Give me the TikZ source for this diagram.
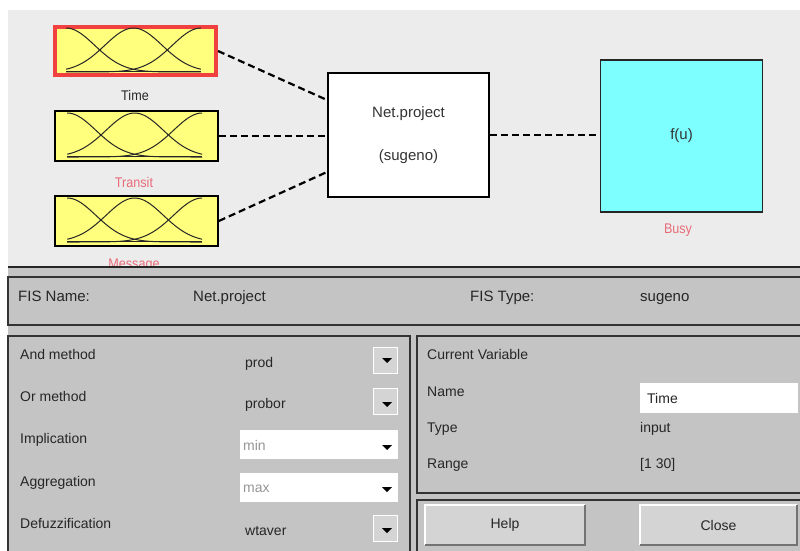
\documentclass[tikz,border=0pt]{standalone}
\usepackage{fontspec}
\setmainfont{Liberation Sans}
\newfontfamily\labelsans[FakeStretch=0.9]{Liberation Sans}
\usetikzlibrary{positioning, calc}

\definecolor{topbg}{RGB}{236,236,236}
\definecolor{panelbg}{RGB}{196,196,196}
\definecolor{mfyellow}{RGB}{255,255,125}
\definecolor{outcyan}{RGB}{125,255,255}
\definecolor{selred}{RGB}{240,64,64}
\definecolor{varpink}{RGB}{232,108,120}
\definecolor{btnface}{RGB}{212,212,212}
\definecolor{dimtext}{RGB}{150,150,150}

\begin{document}
\begin{tikzpicture}[x=1pt, y=-1pt,
    mfbox/.style={rectangle, draw=black, line width=1.6pt, fill=mfyellow, minimum width=163pt, minimum height=50pt, inner sep=0pt},
    mfcurve/.style={black!85, line width=1pt},
    varname/.style={font=\labelsans\fontsize{14}{16}\selectfont, text=#1},
    link/.style={black, line width=2.2pt, dash pattern=on 7pt off 4pt},
    panel/.style={draw=black!80, line width=1.4pt},
    lbl/.style={anchor=base west, font=\fontsize{14}{16}\selectfont, inner sep=0pt, text=black!85},
    fisrow/.style={lbl, font=\fontsize{15}{17}\selectfont},
    popup/.style={rectangle, fill=white, minimum width=158pt, minimum height=29pt, inner sep=0pt},
    popbtn/.style={rectangle, fill=btnface, draw=white, line width=0.8pt, minimum width=24pt, minimum height=26pt, inner sep=0pt},
    button/.style={rectangle, fill=btnface, minimum width=160pt, minimum height=40pt, font=\fontsize{14}{16}\selectfont, text=black!85}
]
\useasboundingbox (0,0) rectangle (800,551);

% ---- Diagram area ----
\fill[white] (0,0) rectangle (800,551);
\fill[topbg] (8,10) rectangle (800,266);

% ---- Input variables ----
\node[mfbox, draw=selred, line width=4pt, minimum width=161pt, minimum height=48pt] (time) at (135.5,51) {};
\node[mfbox] (transit) at (136.5,136) {};
\node[mfbox] (message) at (136.5,221) {};

% gaussian membership functions
\foreach \n in {time, transit, message} {
  \begin{scope}[shift={(\n.west)}]
    \foreach \c in {0, 0.5, 1}
      \draw[mfcurve] plot[domain=0:1, samples=50, smooth]
        ({13+135*\x}, {21-44*exp(-0.5*((\x-\c)/0.2123)*((\x-\c)/0.2123))});
    \draw[mfcurve, line width=1.6pt] (13,20.5) -- (148,20.5);
  \end{scope}
}

\node[varname=black!85] (timelbl) at (135,95) {Time};
\node[varname=varpink] (transitlbl) at (134,182) {Transit};
\node[varname=varpink] (messagelbl) at (134,265) {Message};

% ---- System and output ----
\node[rectangle, draw=black, line width=2pt, fill=white, minimum width=161pt, minimum height=124pt, align=center, font=\fontsize{15}{17}\selectfont, text=black!80] (fis) at (408.5,135) {Net.project\\[26pt](sugeno)};

\node[rectangle, draw=black!85, line width=1.2pt, fill=outcyan, minimum width=162pt, minimum height=152pt, font=\fontsize{15}{17}\selectfont, text=black!80] (busy) at (681.5,136) {f(u)};
\node[varname=varpink] (busylbl) at (678,230) {Busy};

% ---- Connections ----
\draw[link] (time.east) -- ([yshift=35pt]fis.west);
\draw[link] (transit.east) -- (transit.east -| fis.west);
\draw[link] (message.east) -- ([yshift=-37pt]fis.west);
\draw[link] (fis.east) -- (fis.east -| busy.west);

% ---- Control panel ----
\fill[panelbg] (8,267) rectangle (800,551);
\draw[black!85, line width=2pt] (8,267) -- (800,267);

% FIS name / type row
\draw[panel] (8,277) rectangle (801,325);
\node[fisrow] (fisname) at (18,301) {FIS Name:};
\node[fisrow] (fisnameval) at (193,301) {Net.project};
\node[fisrow] (fistype) at (470,301) {FIS Type:};
\node[fisrow] (fistypeval) at (640,301) {sugeno};

% methods
\draw[panel] (8,336) rectangle (410,552);
\node[lbl] (andlbl) at (20,359) {And method};
\node[lbl] (orlbl) at (20,401) {Or method};
\node[lbl] (implbl) at (20,443) {Implication};
\node[lbl] (agglbl) at (20,486) {Aggregation};
\node[lbl] (defuzzlbl) at (20,528) {Defuzzification};

\node[popup] (minbox) at (319,444) {};
\node[popup] (maxbox) at (319,487) {};
\node[popbtn] (andbtn) at (385,360) {};
\node[popbtn] (orbtn) at (385,401) {};
\node[popbtn] (defuzzbtn) at (385,528) {};

\node[lbl] (andval) at (245,367) {prod};
\node[lbl] (orval) at (245,408) {probor};
\node[lbl, text=dimtext] (impval) at (243,450) {min};
\node[lbl, text=dimtext] (aggval) at (243,492) {max};
\node[lbl] (defuzzval) at (245,535) {wtaver};

% drop-down arrows
\foreach \ay in {360, 404, 447, 489, 530}
  \fill[black] (382,\ay-2) -- (392,\ay-2) -- (387,\ay+3) -- cycle;

% current variable
\draw[panel] (417,336) rectangle (801,493);
\node[lbl] (curvar) at (427,359) {Current Variable};
\node[lbl] (namelbl) at (427,396) {Name};
\node[lbl] (typelbl) at (427,432) {Type};
\node[lbl] (rangelbl) at (427,468) {Range};
\node[rectangle, fill=white, minimum width=158pt, minimum height=30pt, inner sep=0pt] (namefield) at (719,398) {};
\node[lbl] (nameval) at (647,403) {Time};
\node[lbl] (typeval) at (640,432) {input};
\node[lbl] (rangeval) at (640,468) {[1 30]};

% buttons
\draw[panel] (417,500) rectangle (801,552);
\node[button] (help) at (505,525) {Help};
\node[button, minimum width=157pt] (close) at (718.5,525) {Close};
\foreach \b in {help, close} {
  \draw[white, line width=1.5pt] (\b.south west) -- (\b.north west) -- (\b.north east);
  \draw[black!55, line width=1.5pt] (\b.north east) -- (\b.south east) -- (\b.south west);
}

\end{tikzpicture}
\end{document}
